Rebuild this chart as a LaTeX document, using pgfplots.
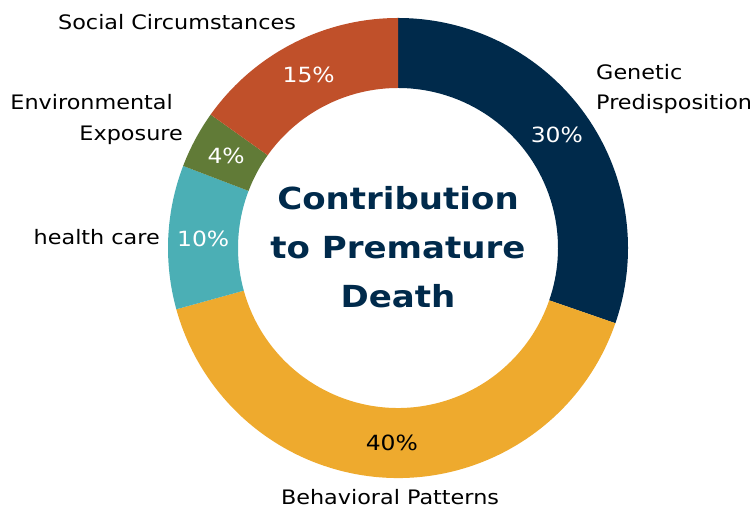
\documentclass[border=0pt]{standalone}
\usepackage{pgfplots}
\pgfplotsset{compat=1.18}
\usepackage{fontspec}
\setmainfont{DejaVu Sans}[FakeStretch=1.12]
\definecolor{cNavy}{HTML}{002A4B}
\definecolor{cOrange}{HTML}{EEAA2E}
\definecolor{cTeal}{HTML}{4BAFB5}
\definecolor{cGreen}{HTML}{617B37}
\definecolor{cRed}{HTML}{C0502A}
\def\Total{99}
% #1 cumulative value before slice, #2 slice value, #3 colour, #4 label colour
\newcommand{\slice}[4]{%
  \pgfmathsetmacro\aA{90-(360/\Total)*#1}%
  \pgfmathsetmacro\aB{90-(360/\Total)*(#1+#2)}%
  \pgfmathsetmacro\aM{(\aA+\aB)/2}%
  \pgfmathsetmacro\xA{230*cos(\aA)}\pgfmathsetmacro\yA{230*sin(\aA)}%
  \pgfmathsetmacro\xB{160*cos(\aB)}\pgfmathsetmacro\yB{160*sin(\aB)}%
  \pgfmathsetmacro\xM{195*cos(\aM)}\pgfmathsetmacro\yM{195*sin(\aM)}%
  \edef\tmp{\noexpand\fill[#3] (axis cs:\xA,\yA) arc[start angle=\aA, end angle=\aB, radius=230bp] -- (axis cs:\xB,\yB) arc[start angle=\aB, end angle=\aA, radius=160bp] -- cycle;
  \noexpand\node[text=#4, font=\noexpand\fontsize{21}{24}\noexpand\selectfont] at (axis cs:\xM,\yM) {#2\noexpand\%};}%
  \tmp}
\begin{document}
\begin{tikzpicture}
\begin{axis}[
  x=1bp, y=1bp, scale only axis,
  xmin=-398, xmax=358, ymin=-266, ymax=248,
  hide axis, clip=false,
]
\path (rel axis cs:0,0) rectangle (rel axis cs:1,1);
\slice{0}{30}{cNavy}{white}
\slice{30}{40}{cOrange}{black}
\slice{70}{10}{cTeal}{white}
\slice{80}{4}{cGreen}{white}
\slice{84}{15}{cRed}{white}
\node[font=\fontsize{20}{24}\selectfont, anchor=west, inner sep=0pt] at (axis cs:198,176) {Genetic};
\node[font=\fontsize{20}{24}\selectfont, anchor=west, inner sep=0pt] at (axis cs:198,144) {Predisposition};
\node[font=\fontsize{20}{24}\selectfont] at (axis cs:-8,-249) {Behavioral Patterns};
\node[font=\fontsize{20}{24}\selectfont, anchor=east, inner sep=0pt] at (axis cs:-238,11) {health care};
\node[font=\fontsize{20}{24}\selectfont, anchor=east, inner sep=0pt] at (axis cs:-225,146) {Environmental};
\node[font=\fontsize{20}{24}\selectfont, anchor=east, inner sep=0pt] at (axis cs:-215,113) {Exposure};
\node[font=\fontsize{20}{24}\selectfont] at (axis cs:-221,226) {Social Circumstances};
\node[font=\fontsize{30.5}{49}\selectfont\bfseries, text=cNavy, align=center] at (axis cs:0,1) {Contribution\\to Premature\\Death};
\end{axis}
\end{tikzpicture}
\end{document}
